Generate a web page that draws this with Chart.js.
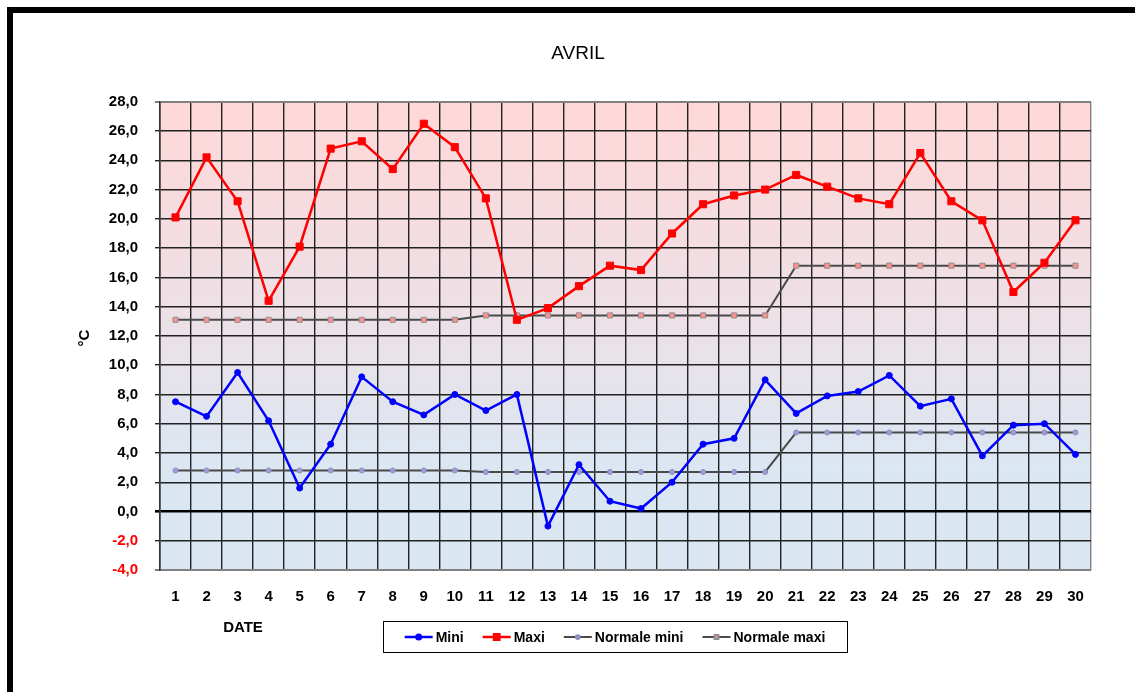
<!DOCTYPE html>
<html><head><meta charset="utf-8">
<script src="https://cdn.jsdelivr.net/npm/chart.js@4.4.1/dist/chart.umd.min.js"></script>
<style>
html,body{margin:0;padding:0;background:#fff;overflow:hidden}
#wrap{position:relative;width:1135px;height:692px;overflow:hidden}
#frame{position:absolute;left:7px;top:7px;width:1150px;height:710px;border-top:6px solid #000;border-left:6px solid #000;box-sizing:border-box}
canvas{position:absolute;left:0;top:0}
</style></head><body>
<div id="wrap"><div id="frame"></div><canvas id="c" width="1135" height="692"></canvas></div>
<script>
const days = ['1','2','3','4','5','6','7','8','9','10','11','12','13','14','15','16','17','18','19','20','21','22','23','24','25','26','27','28','29','30'];
const mini = [7.5,6.5,9.5,6.2,1.6,4.6,9.2,7.5,6.6,8.0,6.9,8.0,-1.0,3.2,0.7,0.2,2.0,4.6,5.0,9.0,6.7,7.9,8.2,9.3,7.2,7.7,3.8,5.9,6.0,3.9];
const maxi = [20.1,24.2,21.2,14.4,18.1,24.8,25.3,23.4,26.5,24.9,21.4,13.1,13.9,15.4,16.8,16.5,19.0,21.0,21.6,22.0,23.0,22.2,21.4,21.0,24.5,21.2,19.9,15.0,17.0,19.9];
const normaleMini = [2.8,2.8,2.8,2.8,2.8,2.8,2.8,2.8,2.8,2.8,2.7,2.7,2.7,2.7,2.7,2.7,2.7,2.7,2.7,2.7,5.4,5.4,5.4,5.4,5.4,5.4,5.4,5.4,5.4,5.4];
const normaleMaxi = [13.1,13.1,13.1,13.1,13.1,13.1,13.1,13.1,13.1,13.1,13.4,13.4,13.4,13.4,13.4,13.4,13.4,13.4,13.4,13.4,16.8,16.8,16.8,16.8,16.8,16.8,16.8,16.8,16.8,16.8];
const seriesNames = ['Mini','Maxi','Normale mini','Normale maxi'];
const yMin = -4, yMax = 28, yStep = 2;
const chartTitle = 'AVRIL';
const xTitle = 'DATE';
const yTitle = '°C';

const FONT = '"Liberation Sans", Arial, Helvetica, sans-serif';
Chart.defaults.font.family = FONT;
Chart.defaults.color = '#000';

const bgPlugin = {
  id: 'bg',
  beforeDraw(chart) {
    const {ctx, chartArea: a} = chart;
    const g = ctx.createLinearGradient(0, a.top, 0, a.bottom);
    g.addColorStop(0, '#FFD8D8');
    g.addColorStop(0.45, '#EDE0E6');
    g.addColorStop(0.8, '#DAE7F3');
    g.addColorStop(1, '#DAE7F3');
    ctx.save();
    ctx.fillStyle = g;
    ctx.fillRect(a.left, a.top, a.right - a.left, a.bottom - a.top);
    ctx.restore();
  }
};

const textPlugin = {
  id: 'texts',
  afterDraw(chart) {
    const ctx = chart.ctx;
    ctx.save();
    ctx.fillStyle = '#000';
    ctx.font = 'bold 15px ' + FONT;
    ctx.textAlign = 'center';
    ctx.textBaseline = 'middle';
    ctx.fillText(xTitle, 243, 628);
    ctx.save();
    ctx.translate(85, 338);
    ctx.rotate(-Math.PI / 2);
    ctx.fillText(yTitle, 0, 0);
    ctx.restore();

    // legend
    ctx.font = 'bold 14px ' + FONT;
    ctx.textAlign = 'left';
    const ds = chart.data.datasets;
    const sym = 28, gapT = 3, gapI = 19;
    const widths = ds.map(d => ctx.measureText(d.label).width);
    const total = widths.reduce((s, w) => s + sym + gapT + w, 0) + gapI * (ds.length - 1);
    const cy = 637;
    let x = 615 - total / 2;
    ctx.strokeStyle = '#000';
    ctx.lineWidth = 1;
    ctx.strokeRect(383.5, 621.5, 464, 31);
    ds.forEach((d, i) => {
      ctx.strokeStyle = d.borderColor;
      ctx.lineWidth = d.borderWidth;
      ctx.beginPath();
      ctx.moveTo(x, cy);
      ctx.lineTo(x + sym, cy);
      ctx.stroke();
      ctx.fillStyle = d.pointBackgroundColor;
      ctx.strokeStyle = d.pointBorderColor;
      Chart.helpers.drawPoint(ctx, {pointStyle: d.pointStyle, radius: d.pointRadius * 0.75, borderWidth: d.pointBorderWidth, rotation: 0}, x + sym / 2, cy);
      ctx.fillStyle = '#000';
      ctx.fillText(d.label, x + sym + gapT, cy + 1);
      x += sym + gapT + widths[i] + gapI;
    });
    ctx.restore();
  }
};

new Chart(document.getElementById('c'), {
  type: 'line',
  data: {
    labels: days,
    datasets: [
      {label: seriesNames[0], data: mini, borderColor: '#0000FF', borderWidth: 2.5,
       pointStyle: 'circle', pointRadius: 3, pointBackgroundColor: '#0000FF', pointBorderColor: '#0000FF', pointBorderWidth: 1, tension: 0},
      {label: seriesNames[1], data: maxi, borderColor: '#FF0000', borderWidth: 2.5,
       pointStyle: 'rect', pointRadius: 5, pointBackgroundColor: '#FF0000', pointBorderColor: '#FF0000', pointBorderWidth: 1, tension: 0},
      {label: seriesNames[2], data: normaleMini, borderColor: '#4A4A4A', borderWidth: 2,
       pointStyle: 'circle', pointRadius: 2.5, pointBackgroundColor: '#9C9CD8', pointBorderColor: '#8C8CC0', pointBorderWidth: 1, tension: 0},
      {label: seriesNames[3], data: normaleMaxi, borderColor: '#4A4A4A', borderWidth: 2,
       pointStyle: 'rect', pointRadius: 3.6, pointBackgroundColor: '#FF9090', pointBorderColor: '#909090', pointBorderWidth: 1, tension: 0}
    ]
  },
  options: {
    responsive: false,
    animation: false,
    events: [],
    layout: {padding: {left: 65, right: 44, top: 0, bottom: 82}},
    plugins: {
      legend: {display: false},
      tooltip: {enabled: false},
      title: {display: true, text: chartTitle, color: '#000',
              font: {size: 19, weight: 'normal', family: FONT},
              padding: {top: 42, bottom: 37}}
    },
    scales: {
      x: {
        offset: true,
        afterFit(s) { s.height = 40; },
        grid: {offset: true, drawTicks: false, lineWidth: 1.4,
               color: c => c.type === 'tick' ? '#222' : '#808080'},
        border: {display: true, color: '#808080', width: 2},
        ticks: {padding: 18, color: '#000', font: {size: 15, weight: 'bold', family: FONT}, maxRotation: 0, autoSkip: false}
      },
      y: {
        min: yMin, max: yMax,
        afterFit(s) { s.width = 95; },
        grid: {tickLength: 5,
               color: c => (c.tick && (c.tick.value === yMax || c.tick.value === yMin)) ? '#808080' : (c.tick && c.tick.value === 0 ? '#000' : '#222'),
               lineWidth: c => (c.tick && c.tick.value === 0) ? 2.6 : ((c.tick && (c.tick.value === yMax || c.tick.value === yMin)) ? 2 : 1.4)},
        border: {display: true, color: '#333', width: 1.5},
        ticks: {stepSize: yStep, padding: 17,
                color: c => c.tick.value < 0 ? '#FF0000' : '#000',
                font: {size: 15, weight: 'bold', family: FONT},
                callback: v => v.toFixed(1).replace('.', ',')}
      }
    }
  },
  plugins: [bgPlugin, textPlugin]
});
</script>
</body></html>
